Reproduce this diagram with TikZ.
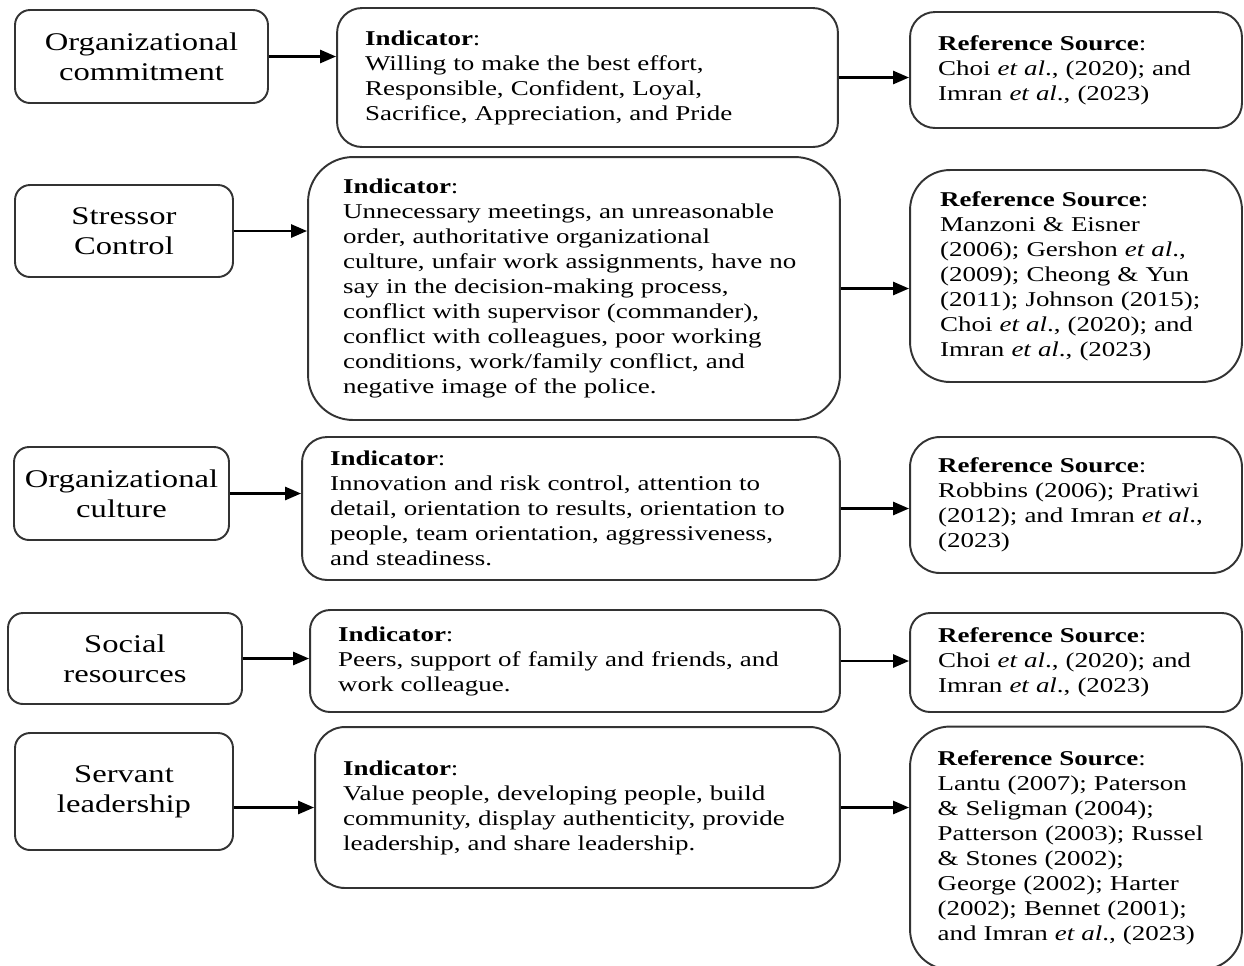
\documentclass[tikz,border=0pt]{standalone}
\usepackage{fontspec}
\setmainfont[FakeStretch=1.28]{Liberation Serif}
\usetikzlibrary{arrows.meta}
\newcommand{\etal}{\textit{et al}.}

\begin{document}
\begin{tikzpicture}[
        x=0.02cm, y=-0.02cm,
        varbox/.style={draw=black!80, line width=1.1pt, rounded corners=0.3cm, align=center, inner sep=0pt, font=\fontsize{14.5}{17}\selectfont},
        txtbox/.style={draw=black!80, line width=1.1pt, align=left, inner xsep=0.56cm, inner ysep=0pt, font=\fontsize{12}{14.2}\selectfont},
        link/.style={-{Triangle[length=0.32cm, width=0.26cm]}, line width=1.5pt}
      ]
        \useasboundingbox (0,0) rectangle (1244,965);

        % variables
        \node[varbox, minimum width=5.06cm, minimum height=1.86cm] (oc) at (141.5,56.5) {Organizational\\commitment};
        \node[varbox, minimum width=4.36cm, minimum height=1.84cm] (sc) at (124,231) {Stressor\\Control};
        \node[varbox, minimum width=4.3cm, minimum height=1.86cm] (cu) at (121.5,493.5) {Organizational\\culture};
        \node[varbox, minimum width=4.68cm, minimum height=1.82cm] (sr) at (125,658.5) {Social\\resources};
        \node[varbox, minimum width=4.36cm, minimum height=2.34cm] (sl) at (124,791.5) {Servant\\leadership};

        % indicators
        \node[txtbox, rounded corners=0.5cm, text width=8.9cm, minimum height=2.78cm] (ocind) at (587.5,77.5)
          {\textbf{Indicator}:\\Willing to make the best effort,\\Responsible, Confident, Loyal,\\Sacrifice, Appreciation, and Pride};
        \node[txtbox, rounded corners=0.9cm, inner xsep=0.7cm, text width=9.24cm, minimum height=5.26cm] (scind) at (574,288.5)
          {\textbf{Indicator}:\\Unnecessary meetings, an unreasonable\\order, authoritative organizational\\culture, unfair work assignments, have no\\say in the decision-making process,\\conflict with supervisor (commander),\\conflict with colleagues, poor working\\conditions, work/family conflict, and\\negative image of the police.};
        \node[txtbox, rounded corners=0.5cm, text width=9.64cm, minimum height=2.86cm] (cuind) at (571,508.5)
          {\textbf{Indicator}:\\Innovation and risk control, attention to\\detail, orientation to results, orientation to\\people, team orientation, aggressiveness,\\and steadiness.};
        \node[txtbox, rounded corners=0.4cm, text width=9.48cm, minimum height=2.04cm] (srind) at (575,661)
          {\textbf{Indicator}:\\Peers, support of family and friends, and\\work colleague.};
        \node[txtbox, rounded corners=0.6cm, text width=9.38cm, minimum height=3.22cm] (slind) at (577.5,807.5)
          {\textbf{Indicator}:\\Value people, developing people, build\\community, display authenticity, provide\\leadership, and share leadership.};

        % sources
        \node[txtbox, rounded corners=0.5cm, text width=5.52cm, minimum height=2.32cm] (ocsrc) at (1076,70)
          {\textbf{Reference Source}:\\Choi \etal, (2020); and\\Imran \etal, (2023)};
        \node[txtbox, rounded corners=0.8cm, inner xsep=0.6cm, text width=5.44cm, minimum height=4.24cm] (scsrc) at (1076,276)
          {\textbf{Reference Source}:\\Manzoni \& Eisner\\(2006); Gershon \etal,\\(2009); Cheong \& Yun\\(2011); Johnson (2015);\\Choi \etal, (2020); and\\Imran \etal, (2023)};
        \node[txtbox, rounded corners=0.6cm, text width=5.52cm, minimum height=2.72cm] (cusrc) at (1076,505)
          {\textbf{Reference Source}:\\Robbins (2006); Pratiwi\\(2012); and Imran \etal,\\(2023)};
        \node[txtbox, rounded corners=0.4cm, text width=5.52cm, minimum height=1.98cm] (srsrc) at (1076,662.5)
          {\textbf{Reference Source}:\\Choi \etal, (2020); and\\Imran \etal, (2023)};
        \node[txtbox, rounded corners=0.8cm, inner xsep=0.55cm, text width=5.54cm, minimum height=4.86cm] (slsrc) at (1076,848)
          {\textbf{Reference Source}:\\Lantu (2007); Paterson\\\& Seligman (2004);\\Patterson (2003); Russel\\\& Stones (2002);\\George (2002); Harter\\(2002); Bennet (2001);\\and Imran \etal, (2023)};

        % arrows
        \draw[link] (oc.east) -- (oc.east -| ocind.west);
        \draw[link] (sc.east) -- (sc.east -| scind.west);
        \draw[link] (cu.east) -- (cu.east -| cuind.west);
        \draw[link] (sr.east) -- (sr.east -| srind.west);
        \draw[link] (sl.east |- slind) -- (slind.west);
        \foreach \i/\s in {ocind/ocsrc, scind/scsrc, cuind/cusrc, srind/srsrc, slind/slsrc}
          \draw[link] (\i.east) -- (\i.east -| \s.west);
    \end{tikzpicture}
\end{document}
